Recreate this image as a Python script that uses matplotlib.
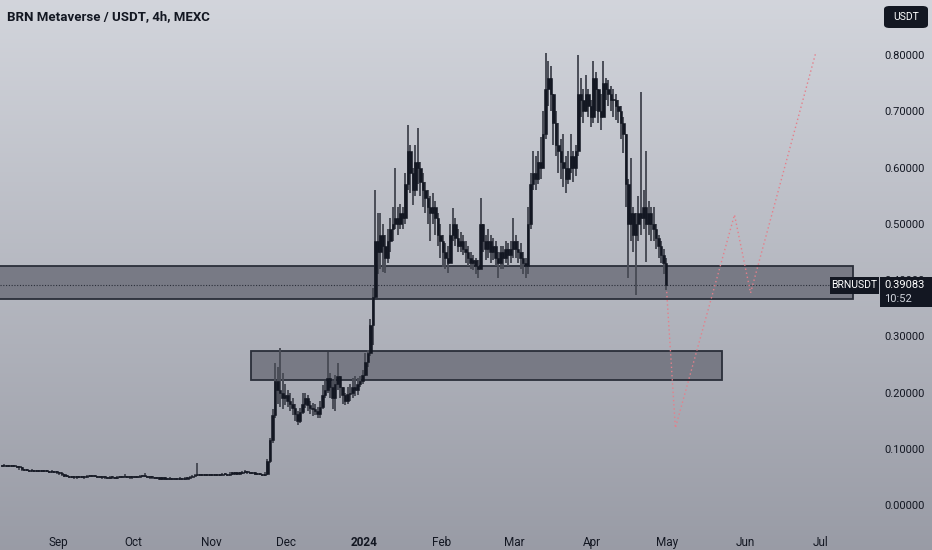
import numpy as np
import matplotlib
matplotlib.use("Agg")
import matplotlib.pyplot as plt
import matplotlib.dates as mdates
from matplotlib.patches import Rectangle, FancyBboxPatch

plt.rcParams['font.family'] = ['Roboto', 'DejaVu Sans']

# daily candles (approximation of the 4h chart), first day 2023-08-09
start_day = "2023-08-09"
close = [
    0.070, 0.071, 0.070, 0.069, 0.070, 0.069, 0.068, 0.068,
    0.064, 0.062, 0.062, 0.061, 0.062, 0.061, 0.061, 0.060,
    0.061, 0.060, 0.060, 0.059, 0.060, 0.059, 0.058, 0.057,
    0.055, 0.052, 0.051, 0.050, 0.050, 0.049, 0.049, 0.050,
    0.050, 0.049, 0.051, 0.052, 0.051, 0.051, 0.050, 0.050,
    0.049, 0.049, 0.048, 0.049, 0.049, 0.048, 0.049, 0.050,
    0.050, 0.051, 0.050, 0.049, 0.049, 0.050, 0.050, 0.051,
    0.051, 0.052, 0.050, 0.049, 0.049, 0.048, 0.048, 0.047,
    0.047, 0.047, 0.046, 0.047, 0.046, 0.046, 0.046, 0.047,
    0.046, 0.047, 0.048, 0.050, 0.052, 0.053, 0.054, 0.053,
    0.053, 0.054, 0.053, 0.054, 0.053, 0.053, 0.054, 0.053,
    0.055, 0.055, 0.054, 0.056, 0.056, 0.057, 0.056, 0.057,
    0.058, 0.059, 0.058, 0.057, 0.057, 0.056, 0.055, 0.055, 0.054,
    0.055, 0.078, 0.115, 0.160, 0.220, 0.205, 0.200, 0.190, 0.195,
    0.185, 0.180, 0.172, 0.162, 0.150, 0.165, 0.180, 0.190, 0.178,
    0.172, 0.170, 0.168, 0.162, 0.175, 0.195, 0.205, 0.225, 0.210,
    0.190, 0.215, 0.230, 0.210, 0.195, 0.185, 0.198, 0.200, 0.210,
    0.205, 0.215, 0.220, 0.232, 0.255, 0.270, 0.320, 0.370, 0.470,
    0.450, 0.480, 0.460, 0.440, 0.470, 0.490, 0.500, 0.510, 0.500,
    0.520, 0.510, 0.570, 0.630, 0.590, 0.560, 0.610, 0.600, 0.575,
    0.560, 0.545, 0.530, 0.520, 0.530, 0.510, 0.480, 0.470, 0.450,
    0.440, 0.430, 0.480, 0.500, 0.475, 0.460, 0.470, 0.455, 0.450,
    0.440, 0.430, 0.435, 0.425, 0.420, 0.500, 0.470, 0.455, 0.470,
    0.450, 0.460, 0.440, 0.430, 0.450, 0.440, 0.455, 0.445, 0.455,
    0.470, 0.455, 0.450, 0.440, 0.430, 0.425, 0.500, 0.570, 0.590,
    0.580, 0.610, 0.600, 0.660, 0.740, 0.760, 0.730, 0.680, 0.640,
    0.630, 0.610, 0.600, 0.580, 0.600, 0.620, 0.600, 0.630, 0.730,
    0.720, 0.700, 0.730, 0.710, 0.690, 0.760, 0.740, 0.700, 0.690,
    0.750, 0.740, 0.730, 0.720, 0.720, 0.710, 0.700, 0.680, 0.660,
    0.570, 0.500, 0.520, 0.480, 0.500, 0.520, 0.510, 0.530, 0.500,
    0.520, 0.500, 0.490, 0.475, 0.460, 0.445, 0.430, 0.39083,
]
high = [
    0.072, 0.073, 0.072, 0.071, 0.072, 0.071, 0.070, 0.070,
    0.068, 0.064, 0.064, 0.063, 0.064, 0.063, 0.063, 0.062,
    0.063, 0.062, 0.062, 0.061, 0.062, 0.061, 0.060, 0.059,
    0.058, 0.055, 0.053, 0.052, 0.052, 0.051, 0.051, 0.052,
    0.052, 0.051, 0.053, 0.054, 0.053, 0.053, 0.052, 0.052,
    0.051, 0.051, 0.050, 0.051, 0.051, 0.050, 0.051, 0.052,
    0.052, 0.056, 0.052, 0.051, 0.051, 0.052, 0.052, 0.053,
    0.053, 0.057, 0.052, 0.051, 0.051, 0.050, 0.050, 0.049,
    0.049, 0.049, 0.048, 0.049, 0.048, 0.048, 0.048, 0.049,
    0.048, 0.049, 0.050, 0.052, 0.054, 0.055, 0.075, 0.056,
    0.055, 0.056, 0.055, 0.056, 0.055, 0.055, 0.056, 0.055,
    0.057, 0.057, 0.056, 0.058, 0.058, 0.059, 0.058, 0.059,
    0.060, 0.062, 0.060, 0.059, 0.059, 0.058, 0.057, 0.057, 0.056,
    0.058, 0.082, 0.120, 0.170, 0.252, 0.245, 0.279, 0.235, 0.215,
    0.205, 0.200, 0.190, 0.180, 0.168, 0.172, 0.200, 0.200, 0.195,
    0.185, 0.182, 0.180, 0.175, 0.185, 0.214, 0.220, 0.272, 0.235,
    0.220, 0.232, 0.252, 0.230, 0.210, 0.200, 0.210, 0.215, 0.225,
    0.230, 0.225, 0.230, 0.240, 0.270, 0.276, 0.330, 0.385, 0.560,
    0.520, 0.520, 0.500, 0.480, 0.490, 0.510, 0.530, 0.600, 0.530,
    0.535, 0.530, 0.590, 0.675, 0.640, 0.600, 0.640, 0.670, 0.610,
    0.590, 0.575, 0.560, 0.550, 0.555, 0.540, 0.520, 0.500, 0.480,
    0.465, 0.460, 0.500, 0.528, 0.510, 0.490, 0.485, 0.480, 0.470,
    0.460, 0.450, 0.445, 0.440, 0.435, 0.546, 0.500, 0.480, 0.490,
    0.480, 0.475, 0.470, 0.450, 0.460, 0.460, 0.470, 0.465, 0.470,
    0.510, 0.480, 0.470, 0.465, 0.450, 0.440, 0.530, 0.590, 0.630,
    0.620, 0.630, 0.655, 0.700, 0.804, 0.790, 0.780, 0.730, 0.700,
    0.680, 0.650, 0.660, 0.620, 0.630, 0.660, 0.630, 0.640, 0.800,
    0.760, 0.740, 0.765, 0.740, 0.720, 0.790, 0.770, 0.740, 0.730,
    0.790, 0.760, 0.755, 0.745, 0.740, 0.730, 0.720, 0.710, 0.690,
    0.660, 0.580, 0.617, 0.530, 0.520, 0.550, 0.734, 0.560, 0.630,
    0.540, 0.530, 0.530, 0.500, 0.480, 0.470, 0.455, 0.440,
]
low = [
    0.068, 0.069, 0.068, 0.067, 0.068, 0.067, 0.066, 0.063,
    0.061, 0.060, 0.060, 0.059, 0.060, 0.059, 0.059, 0.058,
    0.059, 0.058, 0.058, 0.057, 0.058, 0.057, 0.056, 0.054,
    0.051, 0.050, 0.049, 0.048, 0.048, 0.047, 0.047, 0.048,
    0.048, 0.047, 0.049, 0.050, 0.049, 0.049, 0.048, 0.048,
    0.047, 0.047, 0.046, 0.047, 0.047, 0.046, 0.047, 0.048,
    0.048, 0.049, 0.048, 0.047, 0.047, 0.048, 0.048, 0.049,
    0.049, 0.050, 0.048, 0.047, 0.047, 0.046, 0.046, 0.045,
    0.045, 0.045, 0.044, 0.045, 0.044, 0.044, 0.044, 0.045,
    0.044, 0.045, 0.046, 0.048, 0.050, 0.051, 0.052, 0.051,
    0.051, 0.052, 0.051, 0.052, 0.051, 0.051, 0.052, 0.051,
    0.053, 0.053, 0.052, 0.054, 0.054, 0.055, 0.054, 0.055,
    0.056, 0.057, 0.056, 0.055, 0.055, 0.054, 0.053, 0.053, 0.052,
    0.052, 0.054, 0.075, 0.110, 0.155, 0.180, 0.175, 0.170, 0.178,
    0.175, 0.168, 0.160, 0.150, 0.142, 0.145, 0.162, 0.172, 0.168,
    0.162, 0.158, 0.160, 0.155, 0.155, 0.170, 0.190, 0.200, 0.190,
    0.170, 0.167, 0.205, 0.190, 0.180, 0.177, 0.180, 0.185, 0.190,
    0.193, 0.195, 0.210, 0.215, 0.230, 0.245, 0.265, 0.285, 0.368,
    0.410, 0.420, 0.415, 0.412, 0.430, 0.450, 0.470, 0.490, 0.480,
    0.490, 0.490, 0.500, 0.560, 0.555, 0.533, 0.550, 0.570, 0.550,
    0.530, 0.520, 0.500, 0.470, 0.500, 0.480, 0.460, 0.440, 0.423,
    0.420, 0.412, 0.430, 0.470, 0.460, 0.450, 0.450, 0.445, 0.430,
    0.425, 0.420, 0.418, 0.410, 0.403, 0.420, 0.450, 0.435, 0.440,
    0.430, 0.435, 0.425, 0.403, 0.420, 0.420, 0.430, 0.425, 0.430,
    0.440, 0.440, 0.430, 0.420, 0.410, 0.403, 0.410, 0.490, 0.560,
    0.560, 0.570, 0.580, 0.600, 0.650, 0.710, 0.700, 0.640, 0.620,
    0.590, 0.580, 0.565, 0.555, 0.570, 0.590, 0.575, 0.585, 0.620,
    0.690, 0.680, 0.700, 0.690, 0.672, 0.680, 0.700, 0.680, 0.667,
    0.690, 0.720, 0.710, 0.700, 0.690, 0.685, 0.680, 0.650, 0.625,
    0.530, 0.403, 0.470, 0.450, 0.373, 0.470, 0.480, 0.490, 0.432,
    0.480, 0.470, 0.470, 0.455, 0.440, 0.430, 0.410, 0.382,
]

# zones and projected path
upper_zone = (0.366, 0.425)
lower_zone = (0.222, 0.274)
lower_zone_dates = ["2023-11-17", "2024-05-23"]
path_dates = ["2024-04-30T18:00", "2024-05-04T05:00", "2024-05-27T19:00",
              "2024-06-03T05:00", "2024-06-29T05:00"]
path_values = [0.379, 0.137, 0.516, 0.377, 0.804]
last_price = 0.39083
month_labels = ["Sep", "Oct", "Nov", "Dec", "2024", "Feb", "Mar", "Apr", "May", "Jun", "Jul"]
month_starts = ["2023-09-01", "2023-10-01", "2023-11-01", "2023-12-01", "2024-01-01",
                "2024-02-01", "2024-03-01", "2024-04-01", "2024-05-01", "2024-06-01",
                "2024-07-01"]
price_ticks = [0.0, 0.1, 0.2, 0.3, 0.4, 0.5, 0.6, 0.7, 0.8]

W, H = 932, 550
fig = plt.figure(figsize=(W / 100, H / 100), dpi=100)

# background gradient
bg = fig.add_axes([0, 0, 1, 1], zorder=-5)
top = np.array([0.825, 0.835, 0.862])
bot = np.array([0.600, 0.610, 0.650])
t = np.linspace(0, 1, 256)[:, None, None]
grad = top * (1 - t) + bot * t
bg.imshow(grad, aspect="auto", extent=[0, 1, 0, 1])
bg.set_axis_off()

ax = fig.add_axes([0, 28 / H, 857 / W, 522 / H])
ax.set_facecolor("none")
for s in ax.spines.values():
    s.set_visible(False)

dates = np.datetime64(start_day) + np.arange(len(close)).astype("timedelta64[D]")
x = mdates.date2num(dates.astype("datetime64[h]") + np.timedelta64(12, "h"))
c = np.array(close)
o = np.concatenate([[c[0]], c[:-1]])
hi = np.array(high)
lo = np.array(low)

ax.vlines(x, lo, hi, color="#4a4d57", lw=1.4, zorder=3)
ax.bar(x, np.maximum(np.abs(c - o), 0.002), bottom=np.minimum(o, c), width=1.0,
       color="#131722", edgecolor="#131722", lw=0.4, zorder=4)

x0 = mdates.date2num(np.datetime64("2023-08-08T19:00"))
x1 = mdates.date2num(np.datetime64("2024-07-15T16:00"))
ax.set_xlim(x0, x1)
ax.set_ylim(-0.0302, 0.8978)

# zones
xr = mdates.date2num(np.datetime64("2024-07-14T00:00"))
ax.add_patch(Rectangle((x0 - 2, upper_zone[0]), xr - x0 + 2, upper_zone[1] - upper_zone[0],
                       facecolor="#787a85", edgecolor="#2a2e39", lw=1.3, zorder=2))
lz0, lz1 = mdates.date2num(np.array(lower_zone_dates, dtype="datetime64[D]"))
ax.add_patch(Rectangle((lz0, lower_zone[0]), lz1 - lz0, lower_zone[1] - lower_zone[0],
                       facecolor="#787a85", edgecolor="#2a2e39", lw=1.3, zorder=2))

# last price line
ax.axhline(last_price, color="#2a2e39", lw=0.8, ls=(0, (1, 1.5)), zorder=2.5)

# projected path
px = mdates.date2num(np.array(path_dates, dtype="datetime64[m]"))
ax.plot(px, path_values, color="#e57f8a", lw=1.0, ls=(0, (1, 2)), zorder=5)

# axes ticks
ax.set_xticks(mdates.date2num(np.array(month_starts, dtype="datetime64[D]")))
ax.set_xticklabels(month_labels, fontsize=8.5, color="#131722")
for lab in ax.get_xticklabels():
    if lab.get_text() == "2024":
        lab.set_fontweight("bold")
ax.tick_params(axis="x", length=0, pad=10)
ax.yaxis.tick_right()
ax.set_yticks(price_ticks)
ax.set_yticklabels(["%.5f" % v for v in price_ticks], fontsize=8, color="#131722")
ax.tick_params(axis="y", length=0, pad=20)

# title
fig.text(7 / W, 1 - 17 / H, "BRN Metaverse / USDT, 4h, MEXC", fontsize=9.5,
         fontweight="bold", color="#131722", va="center", ha="left")

# USDT button
fig.patches.append(FancyBboxPatch((884 / W, 1 - 28 / H), 44 / W, 22 / H,
                                  boxstyle="round,pad=0,rounding_size=0.006",
                                  transform=fig.transFigure, facecolor="#131722",
                                  edgecolor="none"))
fig.text(906 / W, 1 - 17 / H, "USDT", fontsize=7.5, color="white", ha="center", va="center")

# price labels
fig.patches.append(Rectangle((830 / W, 1 - 294 / H), 49 / W, 17 / H,
                             transform=fig.transFigure, facecolor="#131722",
                             edgecolor="none", zorder=10))
fig.text(854.5 / W, 1 - 285.5 / H, "BRNUSDT", fontsize=7.5, color="white",
         ha="center", va="center", zorder=11)
fig.patches.append(Rectangle((880 / W, 1 - 307 / H), 52 / W, 30 / H,
                             transform=fig.transFigure, facecolor="#131722",
                             edgecolor="none", zorder=10))
fig.text(884 / W, 1 - 285.5 / H, "%.5f" % last_price, fontsize=8, color="white",
         ha="left", va="center", zorder=11)
fig.text(884 / W, 1 - 299 / H, "10:52", fontsize=8, color="#d1d4dc",
         ha="left", va="center", zorder=11)

fig.savefig("out.png", dpi=100)
